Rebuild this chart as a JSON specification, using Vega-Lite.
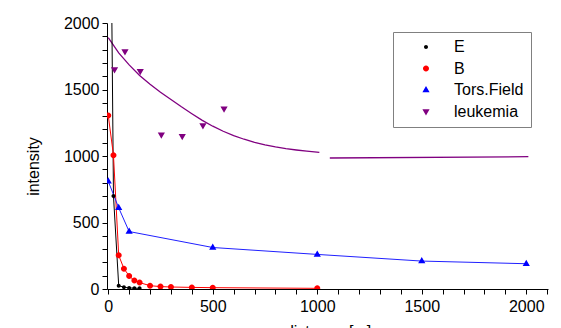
{
  "$schema": "https://vega.github.io/schema/vega-lite/v6.json",
  "width": 441,
  "height": 266,
  "autosize": "none",
  "padding": {"left": 107, "top": 23, "right": 13, "bottom": 39},
  "background": "white",
  "config": {
    "view": {"stroke": null},
    "font": "Liberation Sans",
    "axis": {
      "domainColor": "#000000",
      "tickColor": "#000000",
      "labelColor": "#000000",
      "titleColor": "#000000",
      "labelFont": "Liberation Sans",
      "titleFont": "Liberation Sans",
      "labelFontSize": 16,
      "titleFontSize": 16,
      "titleFontWeight": "normal",
      "grid": false,
      "tickSize": 5,
      "labelOverlap": false,
      "labelFlush": false,
      "labelBound": false
    },
    "legend": {
      "orient": "none",
      "legendX": 286,
      "legendY": 9,
      "padding": 7,
      "strokeColor": "#808080",
      "fillColor": "#ffffff",
      "labelFont": "Liberation Sans",
      "labelFontSize": 16,
      "labelColor": "#000000",
      "symbolSize": 100,
      "symbolOffset": 18,
      "labelOffset": 20,
      "rowPadding": 5.5,
      "symbolStrokeWidth": 1
    }
  },
  "datasets": {
    "pts": [
      {"series": "E", "x": 0, "y": 5000},
      {"series": "E", "x": 25, "y": 700},
      {"series": "E", "x": 50, "y": 25},
      {"series": "E", "x": 75, "y": 13},
      {"series": "E", "x": 100, "y": 8},
      {"series": "E", "x": 125, "y": 6},
      {"series": "E", "x": 150, "y": 5},
      {"series": "B", "x": 0, "y": 1305},
      {"series": "B", "x": 25, "y": 1005},
      {"series": "B", "x": 50, "y": 253},
      {"series": "B", "x": 75, "y": 153},
      {"series": "B", "x": 100, "y": 98},
      {"series": "B", "x": 125, "y": 63},
      {"series": "B", "x": 150, "y": 48},
      {"series": "B", "x": 200, "y": 25},
      {"series": "B", "x": 250, "y": 18},
      {"series": "B", "x": 300, "y": 15},
      {"series": "B", "x": 400, "y": 12},
      {"series": "B", "x": 500, "y": 10},
      {"series": "B", "x": 1000, "y": 5},
      {"series": "Tors.Field", "x": 0, "y": 810},
      {"series": "Tors.Field", "x": 50, "y": 610},
      {"series": "Tors.Field", "x": 100, "y": 432},
      {"series": "Tors.Field", "x": 500, "y": 312},
      {"series": "Tors.Field", "x": 1000, "y": 260},
      {"series": "Tors.Field", "x": 1500, "y": 210},
      {"series": "Tors.Field", "x": 2000, "y": 190},
      {"series": "leukemia", "x": 30, "y": 1650},
      {"series": "leukemia", "x": 80, "y": 1785},
      {"series": "leukemia", "x": 153, "y": 1638},
      {"series": "leukemia", "x": 254, "y": 1160},
      {"series": "leukemia", "x": 354, "y": 1148},
      {"series": "leukemia", "x": 453, "y": 1230},
      {"series": "leukemia", "x": 554, "y": 1355}
    ],
    "fit": [
      {"seg": 1, "x": 0, "y": 1890},
      {"seg": 1, "x": 50, "y": 1775},
      {"seg": 1, "x": 100, "y": 1685},
      {"seg": 1, "x": 150, "y": 1605},
      {"seg": 1, "x": 200, "y": 1540},
      {"seg": 1, "x": 250, "y": 1480},
      {"seg": 1, "x": 300, "y": 1425},
      {"seg": 1, "x": 350, "y": 1370},
      {"seg": 1, "x": 400, "y": 1318},
      {"seg": 1, "x": 450, "y": 1268},
      {"seg": 1, "x": 500, "y": 1224},
      {"seg": 1, "x": 550, "y": 1186},
      {"seg": 1, "x": 600, "y": 1153},
      {"seg": 1, "x": 650, "y": 1126},
      {"seg": 1, "x": 700, "y": 1103},
      {"seg": 1, "x": 750, "y": 1084},
      {"seg": 1, "x": 800, "y": 1068},
      {"seg": 1, "x": 850, "y": 1055},
      {"seg": 1, "x": 900, "y": 1045},
      {"seg": 1, "x": 950, "y": 1036},
      {"seg": 1, "x": 1010, "y": 1027},
      {"seg": 2, "x": 1060, "y": 985},
      {"seg": 2, "x": 2010, "y": 995}
    ]
  },
  "encoding": {
    "x": {
      "field": "x",
      "type": "quantitative",
      "scale": {"domain": [-6, 2104], "nice": false, "zero": false},
      "axis": {
        "values": [0,100,200,300,400,500,600,700,800,900,1000,1100,1200,1300,1400,1500,1600,1700,1800,1900,2000,2100],
        "format": "d",
        "labelExpr": "datum.value % 500 == 0 && datum.value <= 2000 ? datum.label : ''",
        "labelPadding": 4,
        "title": "distance [m]",
        "titlePadding": 9
      }
    },
    "y": {
      "field": "y",
      "type": "quantitative",
      "scale": {"domain": [0, 2000], "nice": false},
      "axis": {
        "values": [0,100,200,300,400,500,600,700,800,900,1000,1100,1200,1300,1400,1500,1600,1700,1800,1900,2000],
        "format": "d",
        "labelExpr": "datum.value % 500 == 0 ? datum.label : ''",
        "labelPadding": 3,
        "title": "intensity",
        "titleAngle": 270,
        "titleAlign": "center",
        "titleBaseline": "alphabetic",
        "titleX": -69,
        "titleY": 143
      }
    }
  },
  "layer": [
    {
      "data": {"name": "fit"},
      "mark": {"type": "line", "color": "#800080", "strokeWidth": 1.3, "clip": true},
      "encoding": {"detail": {"field": "seg", "type": "nominal"}}
    },
    {
      "data": {"name": "pts"},
      "transform": [{"filter": "datum.series != 'leukemia'"}],
      "mark": {"type": "line", "strokeWidth": 1, "clip": true},
      "encoding": {
        "stroke": {
          "field": "series",
          "type": "nominal",
          "scale": {"domain": ["E", "B", "Tors.Field"], "range": ["#000000", "#ff0000", "#2020ff"]},
          "legend": null
        }
      }
    },
    {
      "data": {"name": "pts"},
      "mark": {"type": "point", "filled": true, "opacity": 1, "strokeWidth": 0, "clip": true},
      "encoding": {
        "color": {
          "field": "series",
          "type": "nominal",
          "scale": {"domain": ["E", "B", "Tors.Field", "leukemia"], "range": ["#000000", "#ff0000", "#0000ff", "#800080"]},
          "legend": {"title": null}
        },
        "shape": {
          "field": "series",
          "type": "nominal",
          "scale": {
            "domain": ["E", "B", "Tors.Field", "leukemia"],
            "range": [
              "M-4,0H4M-0.4,0A0.4,0.4,0,1,1,0.4,0A0.4,0.4,0,1,1,-0.4,0Z",
              "M-4,0H4M-0.6,0A0.6,0.6,0,1,1,0.6,0A0.6,0.6,0,1,1,-0.6,0Z",
              "M-4,0H4M0,-0.8L0.72,0.45L-0.72,0.45Z",
              "M-4,0H4M0,0.8L0.72,-0.45L-0.72,-0.45Z"
            ]
          },
          "legend": {"title": null}
        },
        "size": {
          "field": "series",
          "type": "nominal",
          "scale": {"domain": ["E", "B", "Tors.Field", "leukemia"], "range": [100, 100, 112, 156]},
          "legend": null
        }
      }
    }
  ]
}
